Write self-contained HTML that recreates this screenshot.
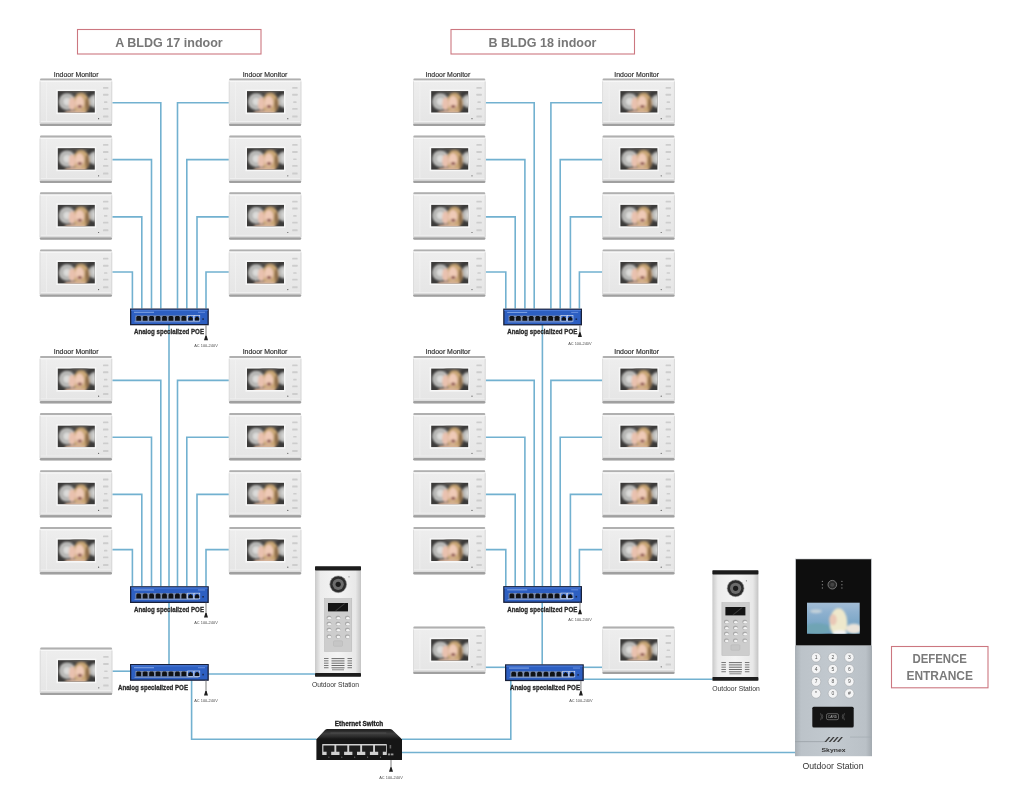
<!DOCTYPE html><html><head><meta charset="utf-8"><style>html,body{margin:0;padding:0;background:#fff;overflow:hidden}svg{display:block;will-change:transform}</style></head><body>
<svg width="1024" height="797" viewBox="0 0 1024 797" font-family='"Liberation Sans", sans-serif'>
<defs>
<filter id="bl" x="-10%" y="-10%" width="120%" height="120%"><feGaussianBlur stdDeviation="0.9"/></filter>
<filter id="bl2" x="-10%" y="-10%" width="120%" height="120%"><feGaussianBlur stdDeviation="0.9"/></filter>
<linearGradient id="monbody" x1="0" y1="0" x2="0" y2="1">
 <stop offset="0" stop-color="#eeeeee"/><stop offset="1" stop-color="#e5e5e5"/>
</linearGradient>
<clipPath id="scrc"><rect x="0" y="0" width="37" height="21.4"/></clipPath>
<g id="scr">
 <rect x="0" y="0" width="37" height="21.4" fill="#3b3a39"/>
 <g filter="url(#bl2)" clip-path="url(#scrc)">
  <circle cx="9.3" cy="10.5" r="8.3" fill="#c6c6c4"/>
  <circle cx="9.3" cy="10.5" r="5.6" fill="none" stroke="#a4a4a2" stroke-width="1.3"/>
  <circle cx="9.3" cy="10.5" r="3.3" fill="#dcdcda"/>
  <circle cx="37.3" cy="10" r="6.6" fill="#bcbcba"/>
  <circle cx="38" cy="10" r="3.4" fill="#d6d6d4"/>
  <ellipse cx="22" cy="0.5" rx="9" ry="2.6" fill="#55514d"/>
  <ellipse cx="23.4" cy="12.5" rx="8.6" ry="10.5" fill="#c9a674"/>
  <ellipse cx="29.3" cy="13.5" rx="1.8" ry="7" fill="#8c6c4c"/>
  <ellipse cx="21.8" cy="11.6" rx="4.4" ry="6.6" fill="#efcab7"/>
  <ellipse cx="14.2" cy="12.8" rx="3.2" ry="6.6" fill="#e9c1af"/>
  <ellipse cx="17.5" cy="21.8" rx="11" ry="2.4" fill="#d8b49c"/>
  <ellipse cx="22" cy="15.4" rx="2.3" ry="1.5" fill="#80423a"/>
 </g>
</g>
<g id="mon">
 <rect x="0" y="0" width="72.6" height="47.4" rx="2" fill="url(#monbody)"/>
 <rect x="0.4" y="0" width="71.8" height="2.1" rx="1" fill="#b0b0b0"/>
 <rect x="0.8" y="2.1" width="71" height="1.3" fill="#f8f8f8"/>
 <rect x="0.2" y="44.9" width="72.2" height="2.5" rx="1.2" fill="#a0a0a0"/>
 <rect x="0" y="43.6" width="72.6" height="1.3" fill="#dcdcdc"/>
 <rect x="1" y="42.6" width="70.6" height="0.6" fill="#f6f6f6"/>
 <rect x="6.6" y="4" width="0.6" height="38.5" fill="#f3f3f3"/>
 <rect x="0" y="3" width="0.9" height="41" fill="#dcdcdc"/>
 <rect x="71.7" y="3" width="0.9" height="41" fill="#d6d6d6"/>
 <rect x="16.7" y="11.1" width="39.9" height="24.5" fill="#f7f7f7"/>
 <use href="#scr" x="18.2" y="12.6"/>
 <g fill="#cdcdcd">
  <rect x="63.4" y="8.4" width="5.4" height="1.8" rx="0.5"/>
  <rect x="63.4" y="15.3" width="5.4" height="2" rx="0.5"/>
  <rect x="64.4" y="22.8" width="3.4" height="1.6" rx="0.5"/>
  <rect x="63.4" y="29.4" width="5.4" height="1.8" rx="0.5"/>
  <rect x="63.4" y="36.9" width="5.4" height="2" rx="0.5"/>
 </g>
 <circle cx="59" cy="40.2" r="0.6" fill="#555"/>
</g>
<g id="poe">
 <rect x="0.65" y="0.65" width="77.5" height="15.5" fill="#2d5fc2" stroke="#18203a" stroke-width="1.3"/>
 <rect x="1.2" y="1.2" width="76.4" height="1.2" fill="#4a7ad8"/>
 <rect x="4" y="3.3" width="20" height="0.9" fill="#8fb0ea"/>
 <rect x="68" y="3.3" width="7" height="0.9" fill="#6f93e0"/>
 <g fill="#101216">
  <rect x="5.4" y="7" width="52.4" height="5.6" fill="#7f8fae"/><path d="M6.3 12.2 v-3.6 l1 -1.2 h2.8 l1 1.2 v3.6 z"/><path d="M12.75 12.2 v-3.6 l1 -1.2 h2.8 l1 1.2 v3.6 z"/><path d="M19.2 12.2 v-3.6 l1 -1.2 h2.8 l1 1.2 v3.6 z"/><path d="M25.65 12.2 v-3.6 l1 -1.2 h2.8 l1 1.2 v3.6 z"/><path d="M32.1 12.2 v-3.6 l1 -1.2 h2.8 l1 1.2 v3.6 z"/><path d="M38.55 12.2 v-3.6 l1 -1.2 h2.8 l1 1.2 v3.6 z"/><path d="M45 12.2 v-3.6 l1 -1.2 h2.8 l1 1.2 v3.6 z"/><path d="M51.45 12.2 v-3.6 l1 -1.2 h2.8 l1 1.2 v3.6 z"/><rect x="57.7" y="7" width="5.6" height="5.6" fill="none" stroke="#d4dcec" stroke-width="0.7"/><path d="M58.4 12 v-2.4 l2.2 -1.8 l2.2 1.8 v2.4 z"/><rect x="64.15" y="7" width="5.6" height="5.6" fill="none" stroke="#d4dcec" stroke-width="0.7"/><path d="M64.85 12 v-2.4 l2.2 -1.8 l2.2 1.8 v2.4 z"/>
 </g>
 <rect x="4.5" y="12.9" width="64" height="0.8" fill="#8ea2cc"/>
 <rect x="72.3" y="9.8" width="1.6" height="1.6" fill="#1a2a55"/>
</g>
<g id="plug">
 <rect x="-0.5" y="0" width="1" height="11" fill="#888"/>
 <path d="M-2 14 L0 9.5 L2 14 Z" fill="#222"/>
</g>

<g id="ods">
 <linearGradient id="odsg" x1="0" y1="0" x2="1" y2="0">
  <stop offset="0" stop-color="#c9c9c9"/><stop offset="0.12" stop-color="#ececec"/><stop offset="0.5" stop-color="#f4f4f4"/><stop offset="0.88" stop-color="#e8e8e8"/><stop offset="1" stop-color="#c4c4c4"/>
 </linearGradient>
 <rect x="0" y="0" width="46" height="110.5" fill="url(#odsg)"/>
 <rect x="0" y="0" width="46" height="4.2" rx="0.8" fill="#1c1c1c"/>
 <rect x="0" y="106.8" width="46" height="3.7" rx="0.8" fill="#1c1c1c"/>
 <circle cx="23.2" cy="18" r="8.4" fill="#2c2c2c" stroke="#9a9a9a" stroke-width="0.6"/>
 <circle cx="23.2" cy="18" r="5.6" fill="#6c6c6c"/>
 <circle cx="23.2" cy="18" r="2.6" fill="#1c1c1c"/>
 <circle cx="34" cy="10.5" r="0.6" fill="#777"/>
 <rect x="9.5" y="32.3" width="27.3" height="52.8" fill="#cdcdcd" stroke="#b5b5b5" stroke-width="0.5"/>
 <rect x="13" y="36.7" width="20" height="8.4" fill="#141414"/>
 <path d="M20 44.5 L29 37.3 L30.5 37.3 L21.5 44.5 Z" fill="#555" opacity="0.6"/>
 <g>
  <rect x="11.6" y="49.4" width="4.8" height="4" rx="1.8" fill="#a9a9a9"/><ellipse cx="14.4" cy="51.9" rx="1.8" ry="1.3" fill="#f2f2f2"/><rect x="20.6" y="49.4" width="4.8" height="4" rx="1.8" fill="#a9a9a9"/><ellipse cx="23.4" cy="51.9" rx="1.8" ry="1.3" fill="#f2f2f2"/><rect x="30" y="49.4" width="4.8" height="4" rx="1.8" fill="#a9a9a9"/><ellipse cx="32.8" cy="51.9" rx="1.8" ry="1.3" fill="#f2f2f2"/><rect x="11.6" y="55.4" width="4.8" height="4" rx="1.8" fill="#a9a9a9"/><ellipse cx="14.4" cy="57.9" rx="1.8" ry="1.3" fill="#f2f2f2"/><rect x="20.6" y="55.4" width="4.8" height="4" rx="1.8" fill="#a9a9a9"/><ellipse cx="23.4" cy="57.9" rx="1.8" ry="1.3" fill="#f2f2f2"/><rect x="30" y="55.4" width="4.8" height="4" rx="1.8" fill="#a9a9a9"/><ellipse cx="32.8" cy="57.9" rx="1.8" ry="1.3" fill="#f2f2f2"/><rect x="11.6" y="61.4" width="4.8" height="4" rx="1.8" fill="#a9a9a9"/><ellipse cx="14.4" cy="63.9" rx="1.8" ry="1.3" fill="#f2f2f2"/><rect x="20.6" y="61.4" width="4.8" height="4" rx="1.8" fill="#a9a9a9"/><ellipse cx="23.4" cy="63.9" rx="1.8" ry="1.3" fill="#f2f2f2"/><rect x="30" y="61.4" width="4.8" height="4" rx="1.8" fill="#a9a9a9"/><ellipse cx="32.8" cy="63.9" rx="1.8" ry="1.3" fill="#f2f2f2"/><rect x="11.6" y="68.2" width="4.8" height="4" rx="1.8" fill="#a9a9a9"/><ellipse cx="14.4" cy="70.7" rx="1.8" ry="1.3" fill="#f2f2f2"/><rect x="20.6" y="68.2" width="4.8" height="4" rx="1.8" fill="#a9a9a9"/><ellipse cx="23.4" cy="70.7" rx="1.8" ry="1.3" fill="#f2f2f2"/><rect x="30" y="68.2" width="4.8" height="4" rx="1.8" fill="#a9a9a9"/><ellipse cx="32.8" cy="70.7" rx="1.8" ry="1.3" fill="#f2f2f2"/>
 </g>
 <rect x="18.5" y="74.5" width="9" height="5.5" rx="1" fill="#c6c6c6" stroke="#b0b0b0" stroke-width="0.4"/>
 <g fill="#6a6a6a">
  <rect x="9" y="91.8" width="4.5" height="0.9"/><rect x="16.5" y="91.8" width="13" height="1"/><rect x="32.5" y="91.8" width="4.5" height="0.9"/><rect x="9" y="94.1" width="4.5" height="0.9"/><rect x="16.5" y="94.1" width="13" height="1"/><rect x="32.5" y="94.1" width="4.5" height="0.9"/><rect x="9" y="96.4" width="4.5" height="0.9"/><rect x="16.5" y="96.4" width="13" height="1"/><rect x="32.5" y="96.4" width="4.5" height="0.9"/><rect x="9" y="98.7" width="4.5" height="0.9"/><rect x="16.5" y="98.7" width="13" height="1"/><rect x="32.5" y="98.7" width="4.5" height="0.9"/><rect x="9" y="101" width="4.5" height="0.9"/><rect x="16.5" y="101" width="13" height="1"/><rect x="32.5" y="101" width="4.5" height="0.9"/>
 </g>
 <rect x="17" y="103" width="12" height="1" fill="#888"/>
</g>

<g id="odb">
 <linearGradient id="odbg" x1="0" y1="0" x2="1" y2="0">
  <stop offset="0" stop-color="#a8afb5"/><stop offset="0.08" stop-color="#bcc3c9"/><stop offset="0.5" stop-color="#c2c9cf"/><stop offset="0.92" stop-color="#bac1c7"/><stop offset="1" stop-color="#a3aab0"/>
 </linearGradient>
 <linearGradient id="odbsky" x1="0" y1="0" x2="0" y2="1">
  <stop offset="0" stop-color="#a3bdd6"/><stop offset="0.3" stop-color="#8fb1cf"/><stop offset="0.7" stop-color="#7aa6c6"/><stop offset="1" stop-color="#6c9fbd"/>
 </linearGradient>
 <rect x="0" y="85.5" width="77" height="112" fill="url(#odbg)"/>
 <rect x="0" y="0" width="77" height="87" fill="#bfc2c5"/>
 <rect x="1" y="0.6" width="75" height="86" fill="#0e0e0e"/>
 <circle cx="37.3" cy="26" r="4.3" fill="#2a2a2a" stroke="#8a8a8a" stroke-width="0.8"/>
 <circle cx="37.3" cy="26" r="2" fill="#444"/>
 <g fill="#777">
  <circle cx="27.4" cy="22.7" r="0.7"/><circle cx="27.4" cy="26" r="0.7"/><circle cx="27.4" cy="29.3" r="0.7"/>
  <circle cx="46.9" cy="22.7" r="0.7"/><circle cx="46.9" cy="26" r="0.7"/><circle cx="46.9" cy="29.3" r="0.7"/>
 </g>
 <clipPath id="odbc"><rect x="12" y="44" width="52.7" height="31"/></clipPath>
 <rect x="12" y="44" width="52.7" height="31" fill="url(#odbsky)"/>
 <g filter="url(#bl)" clip-path="url(#odbc)">
  <ellipse cx="22" cy="70" rx="13" ry="5.5" fill="#6fa4b4"/>
  <ellipse cx="21" cy="52.5" rx="6" ry="2" fill="#c4d2da"/>
  <ellipse cx="59" cy="70" rx="8" ry="5" fill="#ebe4da"/>
  <ellipse cx="43.5" cy="64" rx="8.8" ry="14.5" fill="#eee8cc"/>
  <ellipse cx="45" cy="74.5" rx="7" ry="3" fill="#f3f3f3"/>
  <ellipse cx="38" cy="61" rx="3.8" ry="5.6" fill="#e9c8b6"/>
 </g>
 <g fill="#f3f4f5" stroke="#9a9ea2" stroke-width="0.5">
  <circle cx="21.1" cy="98.7" r="4.7"/><circle cx="37.8" cy="98.7" r="4.7"/><circle cx="54.3" cy="98.7" r="4.7"/><circle cx="21.1" cy="110.4" r="4.7"/><circle cx="37.8" cy="110.4" r="4.7"/><circle cx="54.3" cy="110.4" r="4.7"/><circle cx="21.1" cy="122.9" r="4.7"/><circle cx="37.8" cy="122.9" r="4.7"/><circle cx="54.3" cy="122.9" r="4.7"/><circle cx="21.1" cy="134.8" r="4.7"/><circle cx="37.8" cy="134.8" r="4.7"/><circle cx="54.3" cy="134.8" r="4.7"/>
 </g>
 <g font-size="5" fill="#555" text-anchor="middle">
  <text x="21.1" y="100.5">1</text><text x="37.8" y="100.5">2</text><text x="54.3" y="100.5">3</text><text x="21.1" y="112.2">4</text><text x="37.8" y="112.2">5</text><text x="54.3" y="112.2">6</text><text x="21.1" y="124.7">7</text><text x="37.8" y="124.7">8</text><text x="54.3" y="124.7">9</text><text x="21.1" y="136.6">*</text><text x="37.8" y="136.6">0</text><text x="54.3" y="136.6">#</text>
 </g>
 <rect x="17.3" y="148" width="41.4" height="20.8" rx="1.5" fill="#141414"/>
 <rect x="31.5" y="155" width="12" height="6" rx="1.5" fill="none" stroke="#aaa" stroke-width="0.5"/>
 <text x="37.5" y="159.7" font-size="3.3" fill="#bbb" text-anchor="middle">CARD</text>
 <path d="M27 155.5 q1.5 2.5 0 5 M25.5 154.5 q2 3.5 0 7 M48 155.5 q-1.5 2.5 0 5 M49.5 154.5 q-2 3.5 0 7" stroke="#777" stroke-width="0.5" fill="none"/>
 <rect x="0" y="182.6" width="30" height="0.8" fill="#9aa1a7"/><rect x="55" y="178" width="22" height="0.7" fill="#a4abb1"/>
 <text x="38.3" y="183.2" font-size="8" font-weight="bold" fill="#3a3a3a" text-anchor="middle" font-style="italic" textLength="16.5" lengthAdjust="spacingAndGlyphs">////</text>
 <text x="38.5" y="192.9" font-size="5.6" font-weight="bold" fill="#333" text-anchor="middle" textLength="24" lengthAdjust="spacingAndGlyphs">Skynex</text>
</g>

<g id="eth">
 <linearGradient id="ethtop" x1="0" y1="0" x2="0" y2="1">
  <stop offset="0" stop-color="#1c1c1c"/><stop offset="0.45" stop-color="#3e3e3e"/><stop offset="0.75" stop-color="#2a2a2a"/><stop offset="1" stop-color="#141414"/>
 </linearGradient>
 <path d="M11 0 L73.2 0 Q75 0 76 1 L85.6 10.3 L0 10.3 L8.6 1 Q9.6 0 11 0 Z" fill="url(#ethtop)"/>
 <rect x="14" y="3.2" width="56" height="1.6" fill="#4c4c4c" opacity="0.6"/>
 <rect x="0" y="10" width="85.6" height="21" fill="#161616"/>
 <rect x="5.8" y="15" width="64.6" height="11" rx="0.6" fill="#d0d0d0"/><path d="M7 16.6 h11 v6.2 h-3.2 v3.2 h-4.6 v-3.2 h-3.2 z" fill="#1e1e1e"/><circle cx="12.5" cy="28.2" r="0.6" fill="#777"/><path d="M19.9 16.6 h11 v6.2 h-3.2 v3.2 h-4.6 v-3.2 h-3.2 z" fill="#1e1e1e"/><circle cx="25.4" cy="28.2" r="0.6" fill="#777"/><path d="M32.8 16.6 h11 v6.2 h-3.2 v3.2 h-4.6 v-3.2 h-3.2 z" fill="#1e1e1e"/><circle cx="38.3" cy="28.2" r="0.6" fill="#777"/><path d="M45.7 16.6 h11 v6.2 h-3.2 v3.2 h-4.6 v-3.2 h-3.2 z" fill="#1e1e1e"/><circle cx="51.2" cy="28.2" r="0.6" fill="#777"/><path d="M58.6 16.6 h11 v6.2 h-3.2 v3.2 h-4.6 v-3.2 h-3.2 z" fill="#1e1e1e"/><circle cx="64.1" cy="28.2" r="0.6" fill="#777"/>
 <rect x="73.2" y="16" width="1.6" height="3.5" fill="#666"/>
 <rect x="71.5" y="24.5" width="2.4" height="1.8" fill="#999"/><rect x="74.6" y="24.5" width="2.4" height="1.8" fill="#999"/>
</g>
</defs>
<rect width="1024" height="797" fill="#fff"/>
<rect x="77.5" y="29.5" width="183.5" height="24.5" fill="none" stroke="#cc7780" stroke-width="1.1"/>
<text x="169" y="46.8" font-size="13.5" font-weight="bold" fill="#777" text-anchor="middle" textLength="107.5" lengthAdjust="spacingAndGlyphs">A BLDG 17 indoor</text>
<rect x="451" y="29.5" width="183.5" height="24.5" fill="none" stroke="#cc7780" stroke-width="1.1"/>
<text x="542.5" y="46.8" font-size="13.5" font-weight="bold" fill="#777" text-anchor="middle" textLength="108" lengthAdjust="spacingAndGlyphs">B BLDG 18 indoor</text>
<path d="M112.3 102.8 L160.8 102.8 L160.8 308.5" fill="none" stroke="#72b1d0" stroke-width="1.6"/>
<path d="M229 102.8 L177.5 102.8 L177.5 308.5" fill="none" stroke="#72b1d0" stroke-width="1.6"/>
<path d="M112.3 159.6 L151.5 159.6 L151.5 308.5" fill="none" stroke="#72b1d0" stroke-width="1.6"/>
<path d="M229 159.6 L186.8 159.6 L186.8 308.5" fill="none" stroke="#72b1d0" stroke-width="1.6"/>
<path d="M112.3 216.9 L141.8 216.9 L141.8 308.5" fill="none" stroke="#72b1d0" stroke-width="1.6"/>
<path d="M229 216.9 L197 216.9 L197 308.5" fill="none" stroke="#72b1d0" stroke-width="1.6"/>
<path d="M112.3 272 L132.4 272 L132.4 308.5" fill="none" stroke="#72b1d0" stroke-width="1.6"/>
<path d="M229 272 L206 272 L206 308.5" fill="none" stroke="#72b1d0" stroke-width="1.6"/>
<use href="#mon" x="39.6" y="78.5"/>
<use href="#mon" x="228.8" y="78.5"/>
<use href="#mon" x="39.6" y="135.6"/>
<use href="#mon" x="228.8" y="135.6"/>
<use href="#mon" x="39.6" y="192.3"/>
<use href="#mon" x="228.8" y="192.3"/>
<use href="#mon" x="39.6" y="249.4"/>
<use href="#mon" x="228.8" y="249.4"/>
<text x="76.2" y="76.5" font-size="6.5" fill="#333" text-anchor="middle" textLength="44.7" lengthAdjust="spacingAndGlyphs" stroke="#333" stroke-width="0.18">Indoor Monitor</text>
<text x="265" y="76.5" font-size="6.5" fill="#333" text-anchor="middle" textLength="44.7" lengthAdjust="spacingAndGlyphs" stroke="#333" stroke-width="0.18">Indoor Monitor</text>
<path d="M112.3 380.4 L160.8 380.4 L160.8 586.2" fill="none" stroke="#72b1d0" stroke-width="1.6"/>
<path d="M229 380.4 L177.5 380.4 L177.5 586.2" fill="none" stroke="#72b1d0" stroke-width="1.6"/>
<path d="M112.3 437.3 L151.5 437.3 L151.5 586.2" fill="none" stroke="#72b1d0" stroke-width="1.6"/>
<path d="M229 437.3 L186.8 437.3 L186.8 586.2" fill="none" stroke="#72b1d0" stroke-width="1.6"/>
<path d="M112.3 494.4 L141.8 494.4 L141.8 586.2" fill="none" stroke="#72b1d0" stroke-width="1.6"/>
<path d="M229 494.4 L197 494.4 L197 586.2" fill="none" stroke="#72b1d0" stroke-width="1.6"/>
<path d="M112.3 549.6 L132.4 549.6 L132.4 586.2" fill="none" stroke="#72b1d0" stroke-width="1.6"/>
<path d="M229 549.6 L206 549.6 L206 586.2" fill="none" stroke="#72b1d0" stroke-width="1.6"/>
<use href="#mon" x="39.6" y="356"/>
<use href="#mon" x="228.8" y="356"/>
<use href="#mon" x="39.6" y="413.1"/>
<use href="#mon" x="228.8" y="413.1"/>
<use href="#mon" x="39.6" y="470.2"/>
<use href="#mon" x="228.8" y="470.2"/>
<use href="#mon" x="39.6" y="527"/>
<use href="#mon" x="228.8" y="527"/>
<text x="76.2" y="354" font-size="6.5" fill="#333" text-anchor="middle" textLength="44.7" lengthAdjust="spacingAndGlyphs" stroke="#333" stroke-width="0.18">Indoor Monitor</text>
<text x="265" y="354" font-size="6.5" fill="#333" text-anchor="middle" textLength="44.7" lengthAdjust="spacingAndGlyphs" stroke="#333" stroke-width="0.18">Indoor Monitor</text>
<path d="M169 325 L169 586.2" fill="none" stroke="#72b1d0" stroke-width="1.6"/>
<path d="M485.7 102.8 L534.2 102.8 L534.2 308.5" fill="none" stroke="#72b1d0" stroke-width="1.6"/>
<path d="M602.4 102.8 L550.9 102.8 L550.9 308.5" fill="none" stroke="#72b1d0" stroke-width="1.6"/>
<path d="M485.7 159.6 L524.9 159.6 L524.9 308.5" fill="none" stroke="#72b1d0" stroke-width="1.6"/>
<path d="M602.4 159.6 L560.2 159.6 L560.2 308.5" fill="none" stroke="#72b1d0" stroke-width="1.6"/>
<path d="M485.7 216.9 L515.2 216.9 L515.2 308.5" fill="none" stroke="#72b1d0" stroke-width="1.6"/>
<path d="M602.4 216.9 L570.4 216.9 L570.4 308.5" fill="none" stroke="#72b1d0" stroke-width="1.6"/>
<path d="M485.7 272 L505.8 272 L505.8 308.5" fill="none" stroke="#72b1d0" stroke-width="1.6"/>
<path d="M602.4 272 L579.4 272 L579.4 308.5" fill="none" stroke="#72b1d0" stroke-width="1.6"/>
<use href="#mon" x="413" y="78.5"/>
<use href="#mon" x="602.2" y="78.5"/>
<use href="#mon" x="413" y="135.6"/>
<use href="#mon" x="602.2" y="135.6"/>
<use href="#mon" x="413" y="192.3"/>
<use href="#mon" x="602.2" y="192.3"/>
<use href="#mon" x="413" y="249.4"/>
<use href="#mon" x="602.2" y="249.4"/>
<text x="447.9" y="76.5" font-size="6.5" fill="#333" text-anchor="middle" textLength="44.7" lengthAdjust="spacingAndGlyphs" stroke="#333" stroke-width="0.18">Indoor Monitor</text>
<text x="636.7" y="76.5" font-size="6.5" fill="#333" text-anchor="middle" textLength="44.7" lengthAdjust="spacingAndGlyphs" stroke="#333" stroke-width="0.18">Indoor Monitor</text>
<path d="M485.7 380.4 L534.2 380.4 L534.2 586.2" fill="none" stroke="#72b1d0" stroke-width="1.6"/>
<path d="M602.4 380.4 L550.9 380.4 L550.9 586.2" fill="none" stroke="#72b1d0" stroke-width="1.6"/>
<path d="M485.7 437.3 L524.9 437.3 L524.9 586.2" fill="none" stroke="#72b1d0" stroke-width="1.6"/>
<path d="M602.4 437.3 L560.2 437.3 L560.2 586.2" fill="none" stroke="#72b1d0" stroke-width="1.6"/>
<path d="M485.7 494.4 L515.2 494.4 L515.2 586.2" fill="none" stroke="#72b1d0" stroke-width="1.6"/>
<path d="M602.4 494.4 L570.4 494.4 L570.4 586.2" fill="none" stroke="#72b1d0" stroke-width="1.6"/>
<path d="M485.7 549.6 L505.8 549.6 L505.8 586.2" fill="none" stroke="#72b1d0" stroke-width="1.6"/>
<path d="M602.4 549.6 L579.4 549.6 L579.4 586.2" fill="none" stroke="#72b1d0" stroke-width="1.6"/>
<use href="#mon" x="413" y="356"/>
<use href="#mon" x="602.2" y="356"/>
<use href="#mon" x="413" y="413.1"/>
<use href="#mon" x="602.2" y="413.1"/>
<use href="#mon" x="413" y="470.2"/>
<use href="#mon" x="602.2" y="470.2"/>
<use href="#mon" x="413" y="527"/>
<use href="#mon" x="602.2" y="527"/>
<text x="447.9" y="354" font-size="6.5" fill="#333" text-anchor="middle" textLength="44.7" lengthAdjust="spacingAndGlyphs" stroke="#333" stroke-width="0.18">Indoor Monitor</text>
<text x="636.7" y="354" font-size="6.5" fill="#333" text-anchor="middle" textLength="44.7" lengthAdjust="spacingAndGlyphs" stroke="#333" stroke-width="0.18">Indoor Monitor</text>
<path d="M542.4 325 L542.4 586.2" fill="none" stroke="#72b1d0" stroke-width="1.6"/>
<path d="M169 602.8 L169 664" fill="none" stroke="#72b1d0" stroke-width="1.6"/>
<path d="M542.2 602.8 L542.2 664.5" fill="none" stroke="#72b1d0" stroke-width="1.6"/>
<path d="M112.3 671.2 L130 671.2" fill="none" stroke="#72b1d0" stroke-width="1.6"/>
<path d="M208.3 674 L315 674" fill="none" stroke="#72b1d0" stroke-width="1.6"/>
<path d="M191.6 680.2 L191.6 739.3 L316.5 739.3" fill="none" stroke="#72b1d0" stroke-width="1.6"/>
<use href="#mon" x="39.8" y="647.6"/>
<path d="M485.2 667.3 L505 667.3" fill="none" stroke="#72b1d0" stroke-width="1.6"/>
<path d="M583.6 667.3 L602.3 667.3" fill="none" stroke="#72b1d0" stroke-width="1.6"/>
<path d="M583.6 679.3 L712.4 679.3" fill="none" stroke="#72b1d0" stroke-width="1.6"/>
<path d="M510.8 680.3 L510.8 739.3 L402 739.3" fill="none" stroke="#72b1d0" stroke-width="1.6"/>
<path d="M402 752.5 L795.5 752.5" fill="none" stroke="#72b1d0" stroke-width="1.6"/>
<use href="#mon" x="413" y="626.6"/>
<use href="#mon" x="602.2" y="626.6"/>
<use href="#poe" x="130" y="308.5"/>
<rect x="205.45" y="325.1" width="1.1" height="12.2" fill="#8a8a8a"/>
<path d="M204 340.3 L205.4 335.7 L206.6 335.7 L208 340.3 Z" fill="#1e1e1e"/>
<text x="206" y="346.95" font-size="4.4" fill="#4a4a4a" text-anchor="middle" textLength="23.5" lengthAdjust="spacingAndGlyphs">AC 100-240V</text>
<text x="169" y="334.3" font-size="7.2" font-weight="bold" fill="#2a2a2a" text-anchor="middle" textLength="70" lengthAdjust="spacingAndGlyphs" stroke="#2a2a2a" stroke-width="0.3">Analog specialized POE</text>
<use href="#poe" x="130" y="586.2"/>
<rect x="205.45" y="602.8" width="1.1" height="11.8" fill="#8a8a8a"/>
<path d="M204 617.6 L205.4 613 L206.6 613 L208 617.6 Z" fill="#1e1e1e"/>
<text x="206" y="624.25" font-size="4.4" fill="#4a4a4a" text-anchor="middle" textLength="23.5" lengthAdjust="spacingAndGlyphs">AC 100-240V</text>
<text x="169" y="612" font-size="7.2" font-weight="bold" fill="#2a2a2a" text-anchor="middle" textLength="70" lengthAdjust="spacingAndGlyphs" stroke="#2a2a2a" stroke-width="0.3">Analog specialized POE</text>
<use href="#poe" x="130" y="664"/>
<rect x="205.45" y="680.6" width="1.1" height="12" fill="#8a8a8a"/>
<path d="M204 695.6 L205.4 691 L206.6 691 L208 695.6 Z" fill="#1e1e1e"/>
<text x="206" y="702.35" font-size="4.4" fill="#4a4a4a" text-anchor="middle" textLength="23.5" lengthAdjust="spacingAndGlyphs">AC 100-240V</text>
<text x="153" y="689.8" font-size="7.2" font-weight="bold" fill="#2a2a2a" text-anchor="middle" textLength="70" lengthAdjust="spacingAndGlyphs" stroke="#2a2a2a" stroke-width="0.3">Analog specialized POE</text>
<use href="#poe" x="503.2" y="308.6"/>
<rect x="579.35" y="325.2" width="1.1" height="8.7" fill="#8a8a8a"/>
<path d="M577.9 336.9 L579.3 332.3 L580.5 332.3 L581.9 336.9 Z" fill="#1e1e1e"/>
<text x="579.9" y="344.95" font-size="4.4" fill="#4a4a4a" text-anchor="middle" textLength="23.5" lengthAdjust="spacingAndGlyphs">AC 100-240V</text>
<text x="542.3" y="334.4" font-size="7.2" font-weight="bold" fill="#2a2a2a" text-anchor="middle" textLength="70" lengthAdjust="spacingAndGlyphs" stroke="#2a2a2a" stroke-width="0.3">Analog specialized POE</text>
<use href="#poe" x="503.2" y="586.1"/>
<rect x="579.45" y="602.7" width="1.1" height="8.6" fill="#8a8a8a"/>
<path d="M578 614.3 L579.4 609.7 L580.6 609.7 L582 614.3 Z" fill="#1e1e1e"/>
<text x="580" y="621.05" font-size="4.4" fill="#4a4a4a" text-anchor="middle" textLength="23.5" lengthAdjust="spacingAndGlyphs">AC 100-240V</text>
<text x="542.3" y="611.9" font-size="7.2" font-weight="bold" fill="#2a2a2a" text-anchor="middle" textLength="70" lengthAdjust="spacingAndGlyphs" stroke="#2a2a2a" stroke-width="0.3">Analog specialized POE</text>
<use href="#poe" x="505" y="664.3"/>
<rect x="580.35" y="680.9" width="1.1" height="11.7" fill="#8a8a8a"/>
<path d="M578.9 695.6 L580.3 691 L581.5 691 L582.9 695.6 Z" fill="#1e1e1e"/>
<text x="580.9" y="702.25" font-size="4.4" fill="#4a4a4a" text-anchor="middle" textLength="23.5" lengthAdjust="spacingAndGlyphs">AC 100-240V</text>
<text x="545" y="690.1" font-size="7.2" font-weight="bold" fill="#2a2a2a" text-anchor="middle" textLength="70" lengthAdjust="spacingAndGlyphs" stroke="#2a2a2a" stroke-width="0.3">Analog specialized POE</text>
<use href="#ods" x="315" y="566.3"/>
<text x="335.5" y="687.3" font-size="7" fill="#333" text-anchor="middle" textLength="47.2" lengthAdjust="spacingAndGlyphs">Outdoor Station</text>
<use href="#ods" x="712.4" y="570.3"/>
<text x="736" y="691" font-size="7" fill="#333" text-anchor="middle" textLength="47.5" lengthAdjust="spacingAndGlyphs">Outdoor Station</text>
<use href="#odb" x="795" y="558.7"/>
<text x="833" y="768.8" font-size="8.5" fill="#333" text-anchor="middle" textLength="61.2" lengthAdjust="spacingAndGlyphs">Outdoor Station</text>
<use href="#eth" x="316.4" y="729"/>
<text x="359" y="725.7" font-size="7" font-weight="bold" fill="#222" text-anchor="middle" textLength="48.3" lengthAdjust="spacingAndGlyphs" stroke="#222" stroke-width="0.3">Ethernet Switch</text>
<rect x="390.45" y="760" width="1.1" height="8.8" fill="#8a8a8a"/>
<path d="M389 771.8 L390.4 767.2 L391.6 767.2 L393 771.8 Z" fill="#1e1e1e"/>
<text x="391" y="778.75" font-size="4.4" fill="#4a4a4a" text-anchor="middle" textLength="23.5" lengthAdjust="spacingAndGlyphs">AC 100-240V</text>
<rect x="891.5" y="646.5" width="96.5" height="41.3" fill="none" stroke="#cc7780" stroke-width="1.1"/>
<text x="939.7" y="663.2" font-size="12.8" font-weight="bold" fill="#7a7a7a" text-anchor="middle" textLength="54.5" lengthAdjust="spacingAndGlyphs">DEFENCE</text>
<text x="939.7" y="679.8" font-size="12.8" font-weight="bold" fill="#7a7a7a" text-anchor="middle" textLength="66.5" lengthAdjust="spacingAndGlyphs">ENTRANCE</text>
</svg></body></html>
